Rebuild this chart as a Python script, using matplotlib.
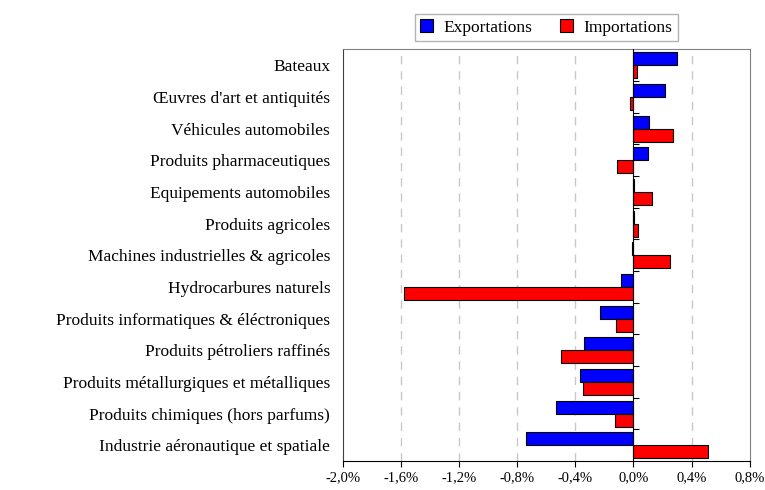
import matplotlib.pyplot as plt
import matplotlib.ticker as mticker
import numpy as np

plt.rcParams['font.family'] = ['Liberation Serif', 'DejaVu Serif']

# categories from top to bottom
categories = ['Bateaux',
              "Œuvres d'art et antiquités",
              'Véhicules automobiles',
              'Produits pharmaceutiques',
              'Equipements automobiles',
              'Produits agricoles',
              'Machines industrielles & agricoles',
              'Hydrocarbures naturels',
              'Produits informatiques & éléctroniques',
              'Produits pétroliers raffinés',
              'Produits métallurgiques et métalliques',
              'Produits chimiques (hors parfums)',
              'Industrie aéronautique et spatiale']

# contributions in %
exportations = [0.30, 0.22, 0.11, 0.10, 0.005, 0.005, -0.01, -0.085,
                -0.23, -0.34, -0.37, -0.53, -0.74]
importations = [0.025, -0.025, 0.27, -0.11, 0.13, 0.03, 0.25, -1.58,
                -0.12, -0.50, -0.35, -0.13, 0.515]

xticks = [-2.0, -1.6, -1.2, -0.8, -0.4, 0.0, 0.4, 0.8]

fig = plt.figure(figsize=(7.65, 4.90), dpi=100)
ax = fig.add_axes([0.448, 0.059, 0.532, 0.840])

n = len(categories)
y = np.arange(n)
h = 0.41
ax.barh(y - h / 2, exportations, height=h, color='#0000ff',
        edgecolor='black', linewidth=0.8, label='Exportations', zorder=3)
ax.barh(y + h / 2, importations, height=h, color='#ff0000',
        edgecolor='black', linewidth=0.8, label='Importations', zorder=3)

ax.set_ylim(n - 0.5, -0.5)
ax.set_xlim(-2.0, 0.8)
ax.set_yticks(y)
ax.set_yticklabels(categories, fontsize=12.5)
ax.tick_params(axis='y', length=0, pad=9)

ax.set_xticks(xticks)
ax.xaxis.set_major_formatter(mticker.FuncFormatter(
    lambda v, p: ('%.1f%%' % v).replace('.', ',').replace('-0,0', '0,0')))
ax.tick_params(axis='x', labelsize=10.5, length=4, direction='out')

# dashed grid
for xv in xticks[1:-1]:
    if xv != 0:
        ax.axvline(xv, color='#c8c8c8', linestyle=(0, (6, 5)), linewidth=1, zorder=1)

# zero axis with small ticks between categories
ax.axvline(0, color='black', linewidth=0.8, zorder=4)
ax.hlines(np.arange(n - 1) + 0.5, 0, 0.035, color='black', linewidth=0.8, zorder=4)

for s in ['top', 'right']:
    ax.spines[s].set_color('#808080')
ax.spines['left'].set_color('#404040')
ax.spines['bottom'].set_color('black')

leg = fig.legend(loc='upper center', bbox_to_anchor=(0.714, 0.978), ncol=2,
                 fontsize=12.5, frameon=True, fancybox=False, edgecolor='#a0a0a0',
                 handlelength=0.75, handleheight=0.75, handletextpad=0.6,
                 columnspacing=1.6, borderpad=0.3, borderaxespad=0.2)
leg.get_frame().set_linewidth(1)

plt.savefig('out.png', dpi=100)
